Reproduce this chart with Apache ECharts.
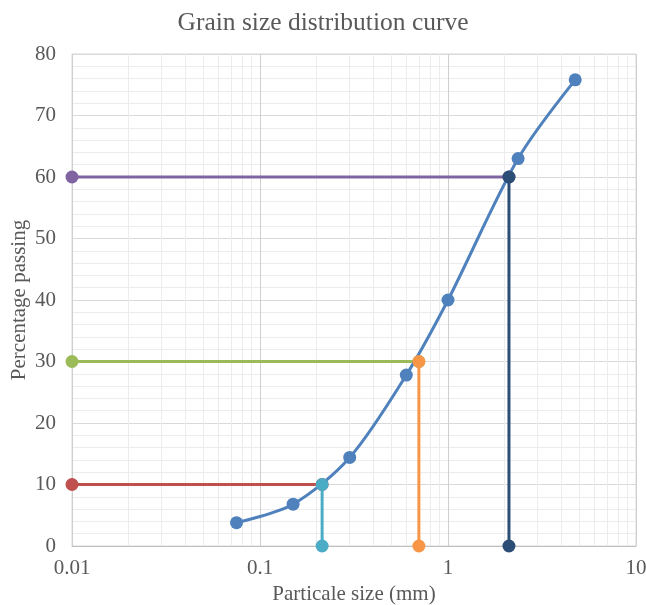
<!DOCTYPE html>
<html><head><meta charset="utf-8">
<script src="https://cdn.jsdelivr.net/npm/echarts@6/dist/echarts.min.js"></script>
<style>html,body{margin:0;padding:0;background:#fff}#c{width:646px;height:605px}</style>
</head><body><div id="c"></div>
<script>
const title = 'Grain size distribution curve';
const xName = 'Particale size (mm)';
const yName = 'Percentage passing';
const sizes = [0.075, 0.15, 0.3, 0.6, 1.0, 2.36, 4.75];
const passing = [3.8, 6.8, 14.4, 27.8, 40, 63, 75.8];
const dLabels = ['D10', 'D30', 'D60'];
const dSizes = [0.214, 0.70, 2.11];
const dPercents = [10, 30, 60];
const hColors = ['#C0504D', '#9BBB59', '#8064A2'];
const vColors = ['#4BACC6', '#F79646', '#2C4D75'];
const xMin = 0.01, xMax = 10;

const font = 'Liberation Serif, Times New Roman, serif';
const txt = '#595959';

// minor vertical gridlines (2..9 of each decade)
const minorX = [];
for (let d = xMin; d < xMax; d *= 10) {
  for (let k = 2; k <= 9; k++) minorX.push(+(d * k).toPrecision(3));
}

const series = [];
series.push({
  type: 'line', data: [], silent: true, z: 0,
  markLine: {
    silent: true, z: 0, symbol: ['none', 'none'], label: {show: false},
    lineStyle: {color: '#ececec', width: 1, type: 'solid'},
    emphasis: {disabled: true},
    animation: false,
    data: minorX.map(v => ({xAxis: v}))
  }
});
dPercents.forEach((p, i) => {
  series.push({
    type: 'line', name: dLabels[i] + ' h',
    data: [[xMin, p], [dSizes[i], p]],
    symbol: 'circle', symbolSize: 13,
    lineStyle: {color: hColors[i], width: 3},
    itemStyle: {color: hColors[i]}, z: 3
  });
});
series.push({
  type: 'line', name: 'curve',
  data: sizes.map((s, i) => [s, passing[i]]),
  smooth: 0.3, symbol: 'circle', symbolSize: 13,
  lineStyle: {color: '#4F81BD', width: 3},
  itemStyle: {color: '#4F81BD'}, z: 4
});
dSizes.forEach((s, i) => {
  series.push({
    type: 'line', name: dLabels[i] + ' v',
    data: [[s, 0], [s, dPercents[i]]],
    symbol: 'circle', symbolSize: 13,
    lineStyle: {color: vColors[i], width: 3},
    itemStyle: {color: vColors[i]}, z: 5
  });
});

const chart = echarts.init(document.getElementById('c'));
chart.setOption({
  animation: false,
  title: {text: title, left: 'center', top: 5,
    textStyle: {fontFamily: font, fontSize: 25.5, fontWeight: 'normal', color: txt}},
  grid: {left: 72, right: 10, top: 54, bottom: 59, show: true, borderColor: '#d9d9d9', borderWidth: 1,
    containLabel: false, outerBoundsMode: 'none'},
  xAxis: {
    type: 'log', logBase: 10, min: xMin, max: xMax,
    name: xName, nameLocation: 'middle', nameGap: 38, nameMoveOverlap: false,
    nameTextStyle: {fontFamily: font, fontSize: 21, color: txt},
    axisLine: {show: true, lineStyle: {color: '#bfbfbf'}},
    axisTick: {show: false},
    axisLabel: {fontFamily: font, fontSize: 21, color: txt, margin: 12,
      formatter: v => String(+v.toPrecision(3))},
    splitLine: {show: true, lineStyle: {color: '#cfcfcf', width: 1}}
  },
  yAxis: {
    type: 'value', min: 0, max: 80, interval: 10,
    name: yName, nameLocation: 'middle', nameGap: 42, nameMoveOverlap: false,
    nameTextStyle: {fontFamily: font, fontSize: 21, color: txt},
    axisLine: {show: false}, axisTick: {show: false},
    axisLabel: {fontFamily: font, fontSize: 21, color: txt, margin: 16},
    splitLine: {show: true, lineStyle: {color: '#d9d9d9', width: 1}},
    minorTick: {show: false, splitNumber: 5},
    minorSplitLine: {show: true, lineStyle: {color: '#ececec', width: 1}}
  },
  series: series
});
</script></body></html>
